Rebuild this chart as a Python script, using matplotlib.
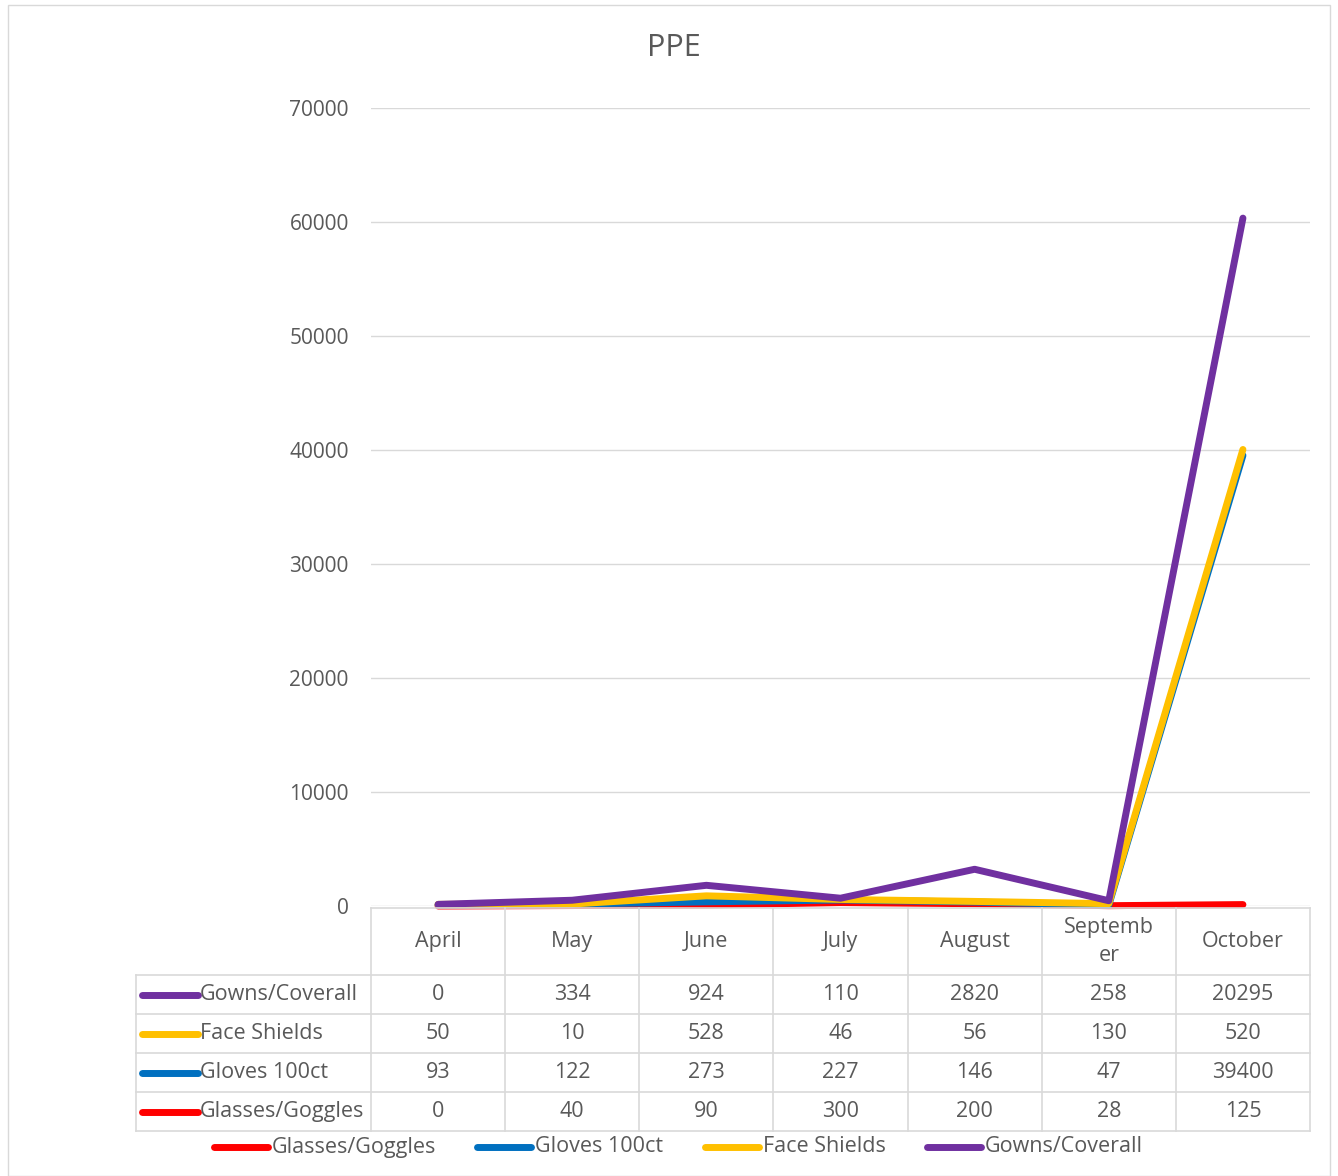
import numpy as np
from matplotlib import pyplot as plt
from matplotlib.lines import Line2D
from matplotlib.patches import Rectangle

months = ['April', 'May', 'June', 'July', 'August', 'Septemb\ner', 'October']
series_names = ['Glasses/Goggles', 'Gloves 100ct', 'Face Shields', 'Gowns/Coverall']
glasses = [0, 40, 90, 300, 200, 28, 125]
gloves = [93, 122, 273, 227, 146, 47, 39400]
face_shields = [50, 10, 528, 46, 56, 130, 520]
gowns = [0, 334, 924, 110, 2820, 258, 20295]
colors = ['#FF0000', '#0070C0', '#FFC000', '#7030A0']
yticks = [0, 10000, 20000, 30000, 40000, 50000, 60000, 70000]

plt.rcParams['font.family'] = ['Open Sans', 'DejaVu Sans']
grey = '#595959'
gridc = '#D9D9D9'
fs = 15.5
lw = 5

W, H = 1338, 1176
fig = plt.figure(figsize=(W / 100, H / 100), dpi=100)
fig.patches.append(Rectangle((8 / W, 0), (1330 - 8) / W, (H - 5) / H, transform=fig.transFigure,
                             fill=False, edgecolor=gridc, lw=1))
fig.text(674 / W, 1 - 48 / H, 'PPE', ha='center', va='center', fontsize=22, color=grey)

# plot area
x0, x1 = 371, 1310
y_zero, y_top = 906, 108
ax = fig.add_axes([x0 / W, (H - y_zero) / H, (x1 - x0) / W, (y_zero - y_top) / H])
x = np.arange(len(months))
data = [glasses, gloves, face_shields, gowns]
cum = np.cumsum(np.array(data), axis=0)  # stacked lines
for i in range(len(data)):
    ax.plot(x, cum[i], color=colors[i], lw=lw, solid_capstyle='round', solid_joinstyle='round',
            zorder=3 + i, clip_on=False)
ax.set_xlim(-0.5, len(months) - 0.5)
ax.set_ylim(0, 70000)
ax.set_yticks(yticks)
ax.set_yticklabels([str(v) for v in yticks], color=grey, fontsize=15)
ax.tick_params(axis='y', length=0, pad=16)
ax.set_xticks([])
ax.grid(axis='y', color=gridc, lw=1)
for s in ax.spines.values():
    s.set_visible(False)

# data table
tx0, ty0, ty1 = 136, 908, 1131
col_w = (x1 - x0) / len(months)
left_units = -0.5 - (x0 - tx0) / col_w
tab = fig.add_axes([tx0 / W, (H - ty1) / H, (x1 - tx0) / W, (ty1 - ty0) / H])
tab.set_xlim(left_units, len(months) - 0.5)
row_h = [67, 39, 39, 39, 39]
edges = np.concatenate([[0], np.cumsum(row_h)])
tab.set_ylim(edges[-1], 0)
tab.axis('off')
lc = dict(color=gridc, lw=1.2, clip_on=False)
tab.plot([-0.5, len(months) - 0.5], [0, 0], **lc)
for r in edges[1:]:
    tab.plot([left_units, len(months) - 0.5], [r, r], **lc)
tab.plot([left_units, left_units], [edges[1], edges[-1]], **lc)
for c in range(len(months) + 1):
    tab.plot([c - 0.5, c - 0.5], [0, edges[-1]], **lc)
for c, m in enumerate(months):
    tab.text(c, row_h[0] / 2, m, ha='center', va='center', fontsize=fs, color=grey, linespacing=1.4)
rows = list(zip(series_names, data, colors))[::-1]
key_len = 56 / col_w
for r, (name, vals, col) in enumerate(rows):
    yc = (edges[r + 1] + edges[r + 2]) / 2
    kx = left_units + 6 / col_w
    tab.plot([kx, kx + key_len], [yc, yc], color=col, lw=lw, solid_capstyle='round', clip_on=False)
    tab.text(kx + key_len + 2 / col_w, yc, name, ha='left', va='center', fontsize=fs, color=grey)
    for c, v in enumerate(vals):
        tab.text(c, yc, str(v), ha='center', va='center', fontsize=fs, color=grey)

# legend below the table
leg_y = 1 - 1147 / H
key_x = [214, 477, 705, 927]
for kx, name, col in zip(key_x, series_names, colors):
    fig.add_artist(Line2D([kx / W, (kx + 54) / W], [leg_y, leg_y], color=col, lw=lw,
                          solid_capstyle='round', transform=fig.transFigure))
    fig.text((kx + 58) / W, leg_y, name, ha='left', va='center', fontsize=fs, color=grey)

fig.savefig('out.png', dpi=100)
